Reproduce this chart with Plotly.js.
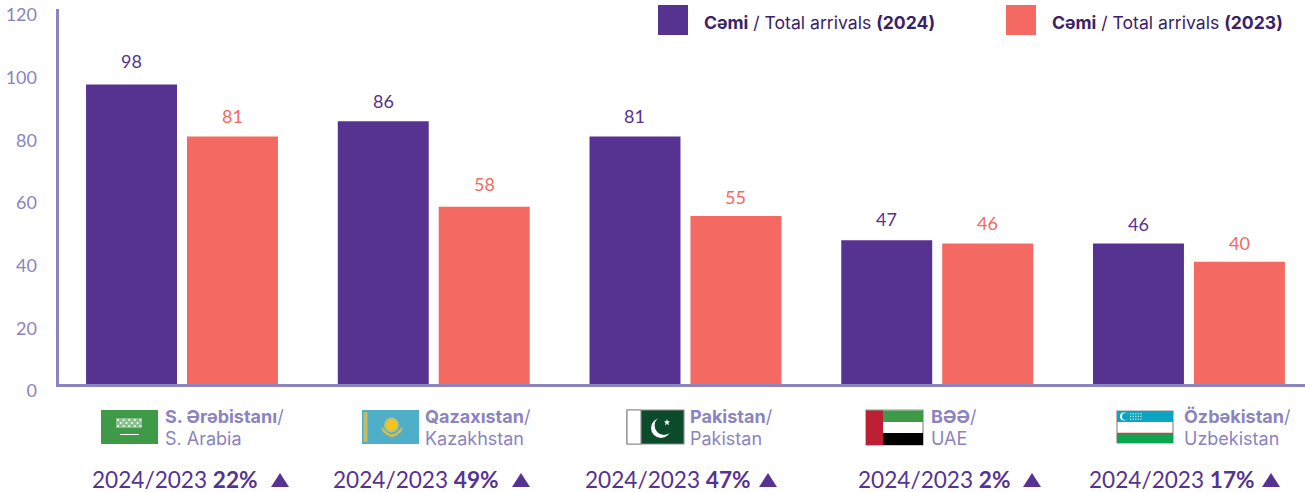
<!DOCTYPE html>
<html><head><meta charset="utf-8">
<script src="https://cdn.plot.ly/plotly-3.0.1.min.js"></script>
<style>html,body{margin:0;padding:0;background:#fff}#c{width:1305px;height:492px}</style>
</head><body><div id="c"></div>
<script>
const categories = ["S. Arabia","Kazakhstan","Pakistan","UAE","Uzbekistan"];
const values2024 = [98,86,81,47,46];
const values2023 = [81,58,55,46,40];
const namesAz = ["S. Ərəbistanı","Qazaxıstan","Pakistan","BƏƏ","Özbəkistan"];
const changes = ["22%","49%","47%","2%","17%"];
const yTicks = [0,20,40,60,80,100,120];

const W=1305,H=492,L=59,T=9,B=391,PH=B-T,PW=W-L,ZERO=384;
const FONT='Lato, sans-serif', FONT2='Inter, sans-serif';
const PURPLE='#573391',CORAL='#f46a62',LILAC='#8b84bf',DARK='#3b2168';
const X=p=>(p-L)/PW, Y=p=>(B-p)/PH;
const shapes=[],ann=[];
function rect(x0,y0,x1,y1,fill,line){shapes.push({type:'rect',xref:'paper',yref:'paper',x0:X(x0),x1:X(x1),y0:Y(y1),y1:Y(y0),fillcolor:fill,line:line?{color:line,width:1.2}:{width:0},layer:'above'});}
function circ(cx,cy,r,fill){shapes.push({type:'circle',xref:'paper',yref:'paper',x0:X(cx-r),x1:X(cx+r),y0:Y(cy+r),y1:Y(cy-r),fillcolor:fill,line:{width:0},layer:'above'});}
function poly(pts,fill){shapes.push({type:'path',xref:'paper',yref:'paper',path:'M'+pts.map(p=>X(p[0])+','+Y(p[1])).join('L')+'Z',fillcolor:fill,line:{width:0},layer:'above'});}
function txt(x,y,t,size,color,family){ann.push({xref:'paper',yref:'paper',x:X(x),y:Y(y),text:t,showarrow:false,xanchor:'left',yanchor:'middle',borderpad:0,font:{family:family||FONT,size:size,color:color}});}

// value labels
const SHIFT=50.5;
const lift2024=[24,20,20,21,19], lift2023=[20,23,19,20,19];
categories.forEach((c,i)=>{
  ann.push({x:c,y:values2024[i],xref:'x',yref:'y',xshift:-SHIFT,yshift:lift2024[i],text:String(values2024[i]),showarrow:false,yanchor:'middle',font:{family:FONT,size:18,color:PURPLE}});
  ann.push({x:c,y:values2023[i],xref:'x',yref:'y',xshift:SHIFT,yshift:lift2023[i],text:String(values2023[i]),showarrow:false,yanchor:'middle',font:{family:FONT,size:18,color:CORAL}});
});

// legend
rect(658,5,688,35,PURPLE);
rect(1006,5,1036,35,CORAL);
txt(702.5,22,'<b>Cəmi</b> / Total arrivals <b>(2024)</b>',17.6,DARK,FONT2);
txt(1050.5,22,'<b>Cəmi</b> / Total arrivals <b>(2023)</b>',17.6,DARK,FONT2);

// country labels & change row
const labelX=[164,424,689,930,1183];
const changeX=[91,332,584,857,1088], triX=[271,512,759,1023,1262];
categories.forEach((c,i)=>{
  txt(labelX[i],416,'<b>'+namesAz[i]+'</b>/',18,LILAC,FONT2);
  txt(labelX[i],438,c,18,LILAC,FONT2);
  txt(changeX[i],479,'2024/2023 <b>'+changes[i]+'</b>',22.6,PURPLE);
  poly([[triX[i],487],[triX[i]+18,487],[triX[i]+9,473]],PURPLE);
});

// flags
// Saudi
rect(101,410,158,444,'#3f9a48');
rect(116,418,142,428,'rgba(255,255,255,0.38)');
for(let c=0;c<9;c++){ for(let r=0;r<3;r++){ if((c+r)%2===0) rect(117+c*2.8,419+r*3,119+c*2.8,421+r*3,'rgba(255,255,255,0.75)'); } }
rect(120,434,139,435,'#ffffff');
// Kazakhstan
rect(362,410,419,444,'#4fafc8');
rect(363.5,412,367.5,442,'#c4bb62');
circ(391.5,425,7.5,'#b3c08a');
circ(391.5,425,5.5,'#f5c518');
poly([[381,426],[383,432],[387,435],[392,437.5],[397,435],[401,432],[403,426],[400,429],[396,433],[392,434.5],[388,433],[384,429]],'#d9bd45');
// Pakistan
rect(627,410,684,444,'#0c4a2c','#8d8d8d');
rect(627,410,641,444,'#ffffff','#8d8d8d');
circ(661,428,10,'#ffffff');
circ(664,425.5,9.4,'#0c4a2c');
poly([[667,419],[667.8,421.2],[670,421.5],[668.3,423],[669,425.2],[667,424],[665,425.2],[665.7,423],[664,421.5],[666.2,421.2]],'#ffffff');
// UAE
rect(866,410,923,445,'#ffffff','#8d8d8d');
rect(866,410.5,923,422,'#3f9a48');
rect(866,433,923,445,'#000000');
rect(866,410.5,883,445,'#bd2034');
// Uzbekistan
rect(1117,411,1173,443,'#ffffff','#8d8d8d');
rect(1117,411,1173,422,'#0aa5c2');
rect(1117,434,1173,443,'#0aa750');
rect(1117,432.8,1173,434.2,'#e2363f');
circ(1124,416.5,4,'#ffffff');
circ(1125.6,416.5,3.6,'#0aa5c2');
for(let c=0;c<5;c++){ for(let r=0;r<3;r++){ rect(1130+c*2.6,413+r*2.8,1131.2+c*2.6,414.2+r*2.8,'rgba(255,255,255,0.8)'); } }

const pxPerUnit=(ZERO-84.5)/98;
const yTop=(ZERO-T)/pxPerUnit;
const traces=[
 {type:'bar',name:'Total arrivals (2024)',x:categories,y:values2024,marker:{color:PURPLE},hoverinfo:'x+y'},
 {type:'bar',name:'Total arrivals (2023)',x:categories,y:values2023,marker:{color:CORAL},hoverinfo:'x+y'},
 {type:'scatter',mode:'none',x:[categories[0],categories[0]],y:[yTicks[0],yTicks[yTicks.length-1]],yaxis:'y2',showlegend:false,hoverinfo:'skip'}
];
const layout={
 width:W,height:H,margin:{l:L,r:0,t:T,b:H-B,pad:0},
 paper_bgcolor:'#fff',plot_bgcolor:'rgba(0,0,0,0)',showlegend:false,
 barmode:'group',bargap:0.198,bargroupgap:0.099,
 font:{family:FONT},
 xaxis:{type:'category',range:[-0.4886,4.461],showticklabels:false,ticks:'',showgrid:false,zeroline:false,showline:true,linecolor:LILAC,linewidth:2.5,anchor:'y',fixedrange:true},
 yaxis:{domain:[(B-ZERO)/PH,1],range:[0,yTop],showticklabels:false,ticks:'',showgrid:false,zeroline:false,showline:true,linecolor:LILAC,linewidth:2.5,anchor:'x',fixedrange:true},
 yaxis2:{domain:[0,(B-15)/PH],range:[0,120],tickvals:yTicks,ticktext:yTicks.map(String),anchor:'x',side:'left',showgrid:false,zeroline:false,showline:false,ticks:'',ticklabelstandoff:21,tickfont:{family:FONT,size:18,color:LILAC},fixedrange:true},
 shapes:shapes,annotations:ann
};
Plotly.newPlot('c',traces,layout,{displayModeBar:false,responsive:false});
</script></body></html>
